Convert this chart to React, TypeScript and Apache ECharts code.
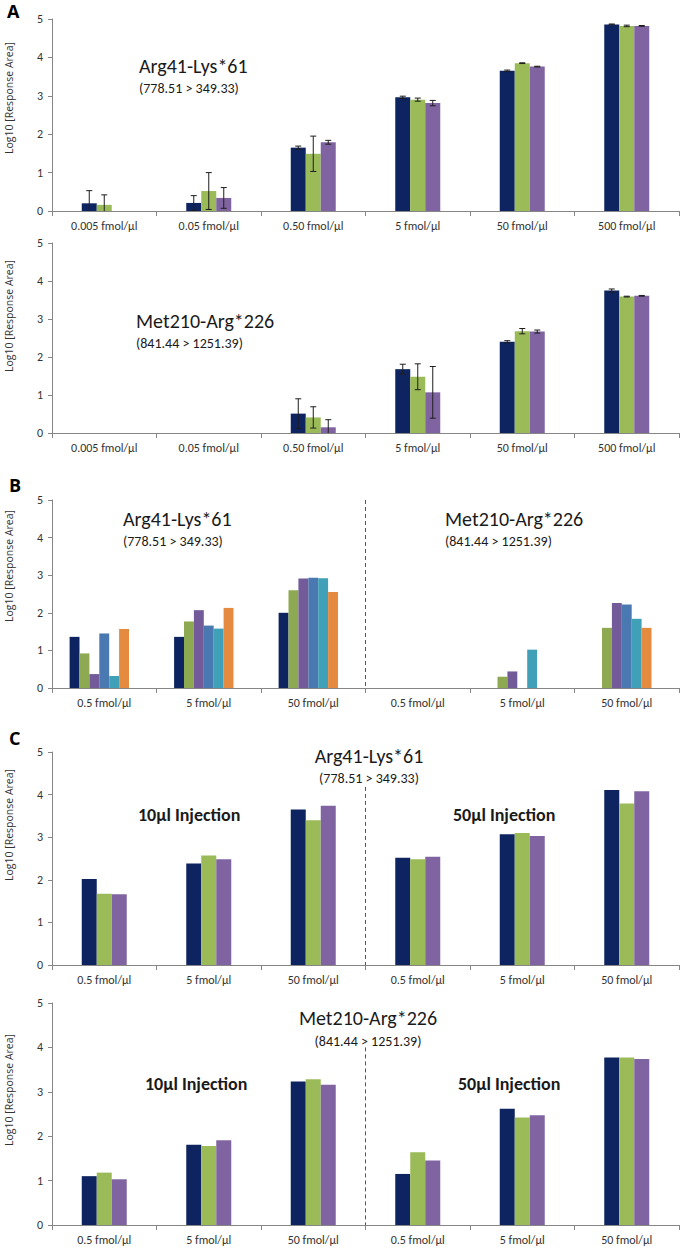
import React, { useEffect, useRef } from "react";
import * as echarts from "echarts";

// ---------- categories & ticks ----------
const catsA = ["0.005 fmol/µl", "0.05 fmol/µl", "0.50 fmol/µl", "5 fmol/µl", "50 fmol/µl", "500 fmol/µl"];
const catsBC = ["0.5 fmol/µl", "5 fmol/µl", "50 fmol/µl", "0.5 fmol/µl", "5 fmol/µl", "50 fmol/µl"];
const yMin = 0;
const yMax = 5;
const yStep = 1;

// ---------- Panel A (top): Arg41-Lys*61 ----------
const a1S1 = [0.2, 0.21, 1.65, 2.96, 3.65, 4.86];
const a1S1Err = [0.33, 0.19, 0.04, 0.03, 0.02, 0.01];
const a1S2 = [0.16, 0.52, 1.49, 2.9, 3.85, 4.82];
const a1S2Err = [0.26, 0.48, 0.46, 0.04, 0.01, 0.02];
const a1S3 = [0, 0.34, 1.79, 2.81, 3.76, 4.82];
const a1S3Err = [0, 0.27, 0.05, 0.07, 0.01, 0.01];

// ---------- Panel A (bottom): Met210-Arg*226 ----------
const a2S1 = [0, 0, 0.51, 1.68, 2.4, 3.75];
const a2S1Err = [0, 0, 0.39, 0.13, 0.03, 0.04];
const a2S2 = [0, 0, 0.41, 1.48, 2.68, 3.59];
const a2S2Err = [0, 0, 0.28, 0.34, 0.07, 0.01];
const a2S3 = [0, 0, 0.15, 1.07, 2.67, 3.61];
const a2S3Err = [0, 0, 0.2, 0.68, 0.04, 0.01];

// ---------- Panel B: six series (+ an empty seventh slot as in the original) ----------
const bS1 = [1.36, 1.36, 2.0, 0, 0, 0];
const bS2 = [0.92, 1.77, 2.6, 0, 0.3, 1.6];
const bS3 = [0.37, 2.07, 2.91, 0, 0.44, 2.26];
const bS4 = [1.45, 1.66, 2.93, 0, 0, 2.22];
const bS5 = [0.32, 1.58, 2.92, 0, 1.02, 1.84];
const bS6 = [1.57, 2.13, 2.55, 0, 0, 1.6];
const bS7 = [0, 0, 0, 0, 0, 0];

// ---------- Panel C (top): Arg41-Lys*61 ----------
const c1S1 = [2.02, 2.38, 3.65, 2.52, 3.07, 4.11];
const c1S2 = [1.67, 2.57, 3.4, 2.48, 3.1, 3.79];
const c1S3 = [1.66, 2.48, 3.74, 2.54, 3.03, 4.08];

// ---------- Panel C (bottom): Met210-Arg*226 ----------
const c2S1 = [1.1, 1.81, 3.23, 1.15, 2.62, 3.77];
const c2S2 = [1.18, 1.78, 3.28, 1.64, 2.42, 3.77];
const c2S3 = [1.03, 1.91, 3.16, 1.45, 2.47, 3.74];

// divider tops (value units) for panel B / C
const dividerB = 5;
const dividerC1 = 4.18;
const dividerC2 = 4.0;

const FONT = "Carlito, Lato, 'Open Sans', sans-serif";
const AXIS_TITLE_FONT = "'Open Sans', 'DejaVu Sans', sans-serif";
const C3 = ["#0E2460", "#9BBB59", "#8064A2"];
const C6 = ["#0E2460", "#8DAA52", "#735A99", "#4A78B0", "#3FA0B8", "#E58B3F"];
const AXIS_GRAY = "#868686";

const grids = [
  { left: 52, top: 19, width: 627, height: 192 },
  { left: 52, top: 243, width: 627, height: 190 },
  { left: 52, top: 500, width: 627, height: 188 },
  { left: 52, top: 752, width: 627, height: 213 },
  { left: 52, top: 1003, width: 627, height: 222 },
];

function xAxis(idx: number, cats: string[]) {
  return {
    type: "category",
    gridIndex: idx,
    data: cats,
    boundaryGap: true,
    axisLine: { show: true, lineStyle: { color: AXIS_GRAY, width: 1 } },
    axisTick: { show: true, length: 5, lineStyle: { color: AXIS_GRAY } },
    axisLabel: { color: "#333", fontSize: 12, fontFamily: FONT, margin: 9, interval: 0 },
    splitLine: { show: false },
  };
}

function yAxis(idx: number) {
  return {
    type: "value",
    gridIndex: idx,
    min: yMin,
    max: yMax,
    interval: yStep,
    axisLine: { show: true, lineStyle: { color: AXIS_GRAY, width: 1 } },
    axisTick: { show: true, length: 4, lineStyle: { color: AXIS_GRAY } },
    axisLabel: { color: "#333", fontSize: 12, fontFamily: FONT, margin: 9 },
    splitLine: { show: false },
  };
}

function bar(idx: number, data: number[], color: string, w: number, name: string) {
  return {
    type: "bar",
    name,
    xAxisIndex: idx,
    yAxisIndex: idx,
    data,
    barWidth: w,
    barGap: "0%",
    itemStyle: { color },
    z: 2,
  };
}

function errBars(idx: number, s: number, n: number, w: number, vals: number[], errs: number[]) {
  return {
    type: "custom",
    xAxisIndex: idx,
    yAxisIndex: idx,
    z: 5,
    data: vals.map((v, i) => [i, v, errs[i]]),
    encode: { x: 0, y: 1 },
    renderItem: (params: any, api: any) => {
      const i = api.value(0);
      const v = api.value(1);
      const e = api.value(2);
      if (!e || !v) return { type: "group", children: [] };
      const off = (s - (n - 1) / 2) * w;
      const hi = api.coord([i, v + e]);
      const lowVal = Math.max(0, v - e);
      const lo = api.coord([i, lowVal]);
      const x = hi[0] + off;
      const st = { stroke: "#1e1e1e", lineWidth: 1 };
      const children: any[] = [
        { type: "line", shape: { x1: x, y1: hi[1], x2: x, y2: lo[1] }, style: st },
        { type: "line", shape: { x1: x - 3, y1: hi[1], x2: x + 3, y2: hi[1] }, style: st },
      ];
      if (v - e > 0) {
        children.push({ type: "line", shape: { x1: x - 3, y1: lo[1], x2: x + 3, y2: lo[1] }, style: st });
      }
      return { type: "group", children };
    },
  };
}

function divider(idx: number, top: number) {
  return {
    type: "custom",
    xAxisIndex: idx,
    yAxisIndex: idx,
    z: 1,
    data: [[2, top]],
    encode: { x: 0, y: 1 },
    renderItem: (params: any, api: any) => {
      const t = api.value(1);
      const p0 = api.coord([2, 0]);
      const p1 = api.coord([2, t]);
      const half = api.size([1, 0])[0] / 2;
      const x = p0[0] + half;
      return {
        type: "line",
        shape: { x1: x, y1: p1[1], x2: x, y2: p0[1] },
        style: { stroke: "#555", lineWidth: 1, lineDash: [4, 3] },
      };
    },
  };
}

function txt(text: string, x: number, y: number, size: number, opts: any = {}) {
  return {
    type: "text",
    x,
    y,
    z: 10,
    style: {
      text,
      fill: opts.fill || "#1a1a1a",
      font: `${opts.bold ? "bold " : ""}${size}px ${opts.family || FONT}`,
      textAlign: opts.align || "left",
      textVerticalAlign: "middle",
    },
  };
}

function axisTitle(y: number) {
  return {
    type: "text",
    x: 9,
    y,
    rotation: Math.PI / 2,
    z: 10,
    style: {
      text: "Log10 [Response Area]",
      fill: "#333",
      font: `10.5px ${AXIS_TITLE_FONT}`,
      textAlign: "center",
      textVerticalAlign: "middle",
    },
  };
}

export default function App() {
  const ref = useRef<HTMLDivElement>(null);

  useEffect(() => {
    if (!ref.current) return;
    const chart = echarts.init(ref.current, undefined, { renderer: "svg" });
    const W3 = 15;
    const W6 = 9.9;
    const T = 20;
    const S = 14;
    const series: any[] = [
      bar(0, a1S1, C3[0], W3, "Rep 1"),
      bar(0, a1S2, C3[1], W3, "Rep 2"),
      bar(0, a1S3, C3[2], W3, "Rep 3"),
      errBars(0, 0, 3, W3, a1S1, a1S1Err),
      errBars(0, 1, 3, W3, a1S2, a1S2Err),
      errBars(0, 2, 3, W3, a1S3, a1S3Err),

      bar(1, a2S1, C3[0], W3, "Rep 1"),
      bar(1, a2S2, C3[1], W3, "Rep 2"),
      bar(1, a2S3, C3[2], W3, "Rep 3"),
      errBars(1, 0, 3, W3, a2S1, a2S1Err),
      errBars(1, 1, 3, W3, a2S2, a2S2Err),
      errBars(1, 2, 3, W3, a2S3, a2S3Err),

      bar(2, bS1, C6[0], W6, "S1"),
      bar(2, bS2, C6[1], W6, "S2"),
      bar(2, bS3, C6[2], W6, "S3"),
      bar(2, bS4, C6[3], W6, "S4"),
      bar(2, bS5, C6[4], W6, "S5"),
      bar(2, bS6, C6[5], W6, "S6"),
      bar(2, bS7, "#ffffff", W6, "S7"),
      divider(2, dividerB),

      bar(3, c1S1, C3[0], W3, "Rep 1"),
      bar(3, c1S2, C3[1], W3, "Rep 2"),
      bar(3, c1S3, C3[2], W3, "Rep 3"),
      divider(3, dividerC1),

      bar(4, c2S1, C3[0], W3, "Rep 1"),
      bar(4, c2S2, C3[1], W3, "Rep 2"),
      bar(4, c2S3, C3[2], W3, "Rep 3"),
      divider(4, dividerC2),
    ];

    const graphic: any[] = [
      txt("A", 7, 11, 18, { bold: true, family: "'Open Sans', sans-serif", fill: "#000" }),
      txt("B", 9, 485, 18, { bold: true, family: "'Open Sans', sans-serif", fill: "#000" }),
      txt("C", 9, 738, 18, { bold: true, family: "'Open Sans', sans-serif", fill: "#000" }),
      axisTitle(98),
      axisTitle(316),
      axisTitle(566),
      axisTitle(825),
      axisTitle(1090),
      // A titles
      txt("Arg41-Lys*61", 139, 66, T),
      txt("(778.51 > 349.33)", 139, 88, S),
      txt("Met210-Arg*226", 136, 321, T),
      txt("(841.44 > 1251.39)", 136, 343, S),
      // B titles
      txt("Arg41-Lys*61", 123, 519, T),
      txt("(778.51 > 349.33)", 123, 541, S),
      txt("Met210-Arg*226", 445, 519, T),
      txt("(841.44 > 1251.39)", 445, 541, S),
      // C top
      txt("Arg41-Lys*61", 369, 756, T, { align: "center" }),
      txt("(778.51 > 349.33)", 369, 778, S, { align: "center" }),
      txt("10µl Injection", 138, 815, 18, { bold: true }),
      txt("50µl Injection", 453, 815, 18, { bold: true }),
      // C bottom
      txt("Met210-Arg*226", 368, 1018, T, { align: "center" }),
      txt("(841.44 > 1251.39)", 368, 1041, S, { align: "center" }),
      txt("10µl Injection", 145, 1084, 18, { bold: true }),
      txt("50µl Injection", 458, 1084, 18, { bold: true }),
    ];

    chart.setOption({
      animation: false,
      backgroundColor: "#fff",
      grid: grids,
      xAxis: [xAxis(0, catsA), xAxis(1, catsA), xAxis(2, catsBC), xAxis(3, catsBC), xAxis(4, catsBC)],
      yAxis: [yAxis(0), yAxis(1), yAxis(2), yAxis(3), yAxis(4)],
      series,
      graphic,
    });

    return () => chart.dispose();
  }, []);

  return (
    <div
      ref={ref}
      style={{ position: "absolute", left: 0, top: 0, width: 685, height: 1249, background: "#fff" }}
    />
  );
}
